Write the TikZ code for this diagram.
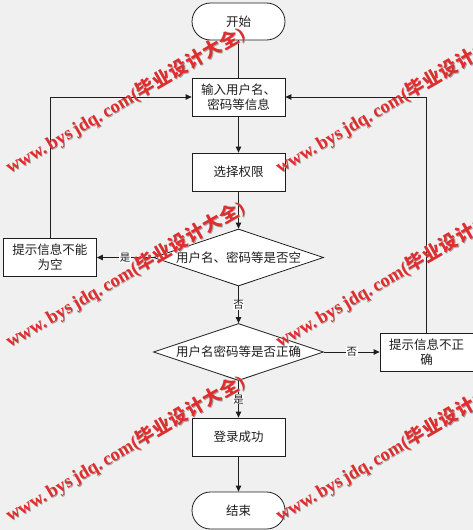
\documentclass[tikz,border=0pt]{standalone}
\usepackage{fontspec}
\newfontfamily\cjk{Noto Sans CJK SC}
\newfontfamily\wmlatin{Liberation Serif}
\usetikzlibrary{shapes.geometric,arrows.meta}
\definecolor{bg}{RGB}{240,240,240}
\definecolor{ink}{RGB}{30,30,30}
\definecolor{wmred}{RGB}{225,45,45}
\tikzset{
  base/.style={draw=ink, line width=0.8pt, fill=white, text=ink, font=\cjk\fontsize{12.5}{15}\selectfont, align=center, inner sep=0pt},
  proc/.style={base, rectangle, minimum width=93pt, minimum height=38pt},
  term/.style={base, rectangle, rounded corners=18.5pt, minimum width=93pt, minimum height=37pt},
  dec/.style={base, diamond, minimum width=170pt, minimum height=57pt},
  conn/.style={draw=ink, line width=0.8pt},
  arr/.style={conn, -{Triangle[length=6pt,width=5.5pt]}},
  lbl/.style={fill=white, inner sep=0.5pt, text=ink, font=\cjk\fontsize{10.5}{12}\selectfont},
  wm/.style={anchor=base west, rotate=30, inner sep=0pt, text=wmred, font=\wmlatin\bfseries\fontsize{18.5}{21}\selectfont},
  wmsh/.style={wm, text=black!35}
}
\newcommand{\wmgap}{\hspace{1pt}}
\newcommand{\wmtext}{www.\,bys\,jdq.\,com({\cjk\bfseries 毕\wmgap 业\wmgap 设\wmgap 计\wmgap 大\wmgap 全})}
\begin{document}
\begin{tikzpicture}[x=1pt,y=-1pt]
\fill[bg] (0,0) rectangle (473,530);
\useasboundingbox (0,0) rectangle (473,530);

\node[term] (start) at (238.5,21.5) {开始};
\node[proc] (input) at (238.5,97) {输入用户名、\\密码等信息};
\node[proc] (sel) at (238.5,172) {选择权限};
\node[dec] (d1) at (238.5,257.5) {\makebox[0pt]{用户名、密码等是否空}};
\node[proc] (left) at (50,257.5) {提示信息不能\\为空};
\node[dec] (d2) at (238.5,352) {\makebox[0pt]{用户名密码等是否正确}};
\node[proc] (right) at (426.5,352) {提示信息不正\\确};
\node[proc] (ok) at (238.5,437) {登录成功};
\node[term] (end) at (238.5,510.5) {结束};

\coordinate (lc) at (left.north |- input.west);
\coordinate (rc) at (right.north |- input.east);

\draw[conn] (start) -- (input);
\draw[arr] (input) -- (sel);
\draw[arr] (sel) -- (d1);
\draw[arr] (d1.west) -- node[lbl, pos=0.5] {是} (left.east);
\draw[arr] (left.north) -- (lc) -- (input.west);
\draw[arr] (d1.south) -- node[lbl] {否} (d2.north);
\draw[arr] (d2.east) -- node[lbl] {否} (right.west);
\draw[arr] (right.north) -- (rc) -- (input.east);
\draw[arr] (d2.south) -- node[lbl] {是} (ok.north);
\draw[arr] (ok) -- (end);

% watermarks
\foreach \px/\py [count=\i] in {10/174, 280/174, 10/348, 280/348, 10/522, 280/522}{
  \node[wmsh] (wms\i) at (\px+0.8,\py+0.8) {\wmtext};
  \node[wm] (wm\i) at (\px,\py) {\wmtext};
}
\end{tikzpicture}
\end{document}
